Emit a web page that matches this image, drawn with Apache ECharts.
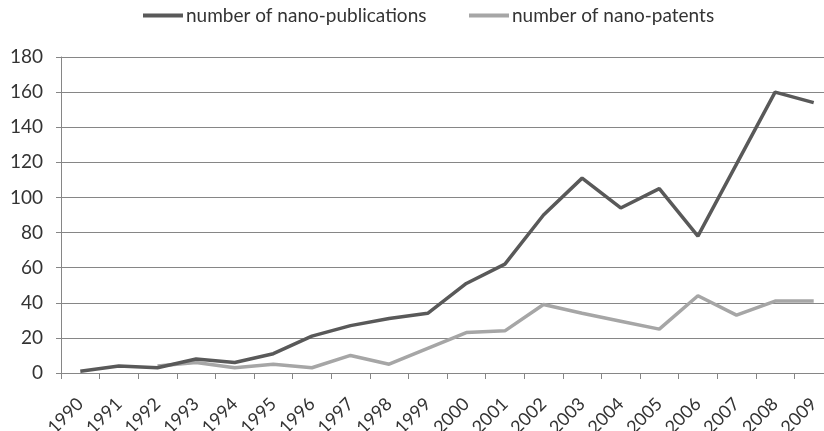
<!DOCTYPE html>
<html lang="en">
<head>
    <meta charset="UTF-8">
    <title>Nano publications and patents</title>
    <script src="https://cdn.jsdelivr.net/npm/echarts@6/dist/echarts.min.js"></script>
    <style>
        html, body { margin: 0; padding: 0; background: #fff; }
        #chart { width: 824px; height: 431px; }
    </style>
</head>
<body>
<div id="chart"></div>
<script>
    // values
    const years = ['1990', '1991', '1992', '1993', '1994', '1995', '1996', '1997', '1998', '1999',
        '2000', '2001', '2002', '2003', '2004', '2005', '2006', '2007', '2008', '2009'];
    const publications = [1, 4, 3, 8, 6, 11, 21, 27, 31, 34, 51, 62, 90, 111, 94, 105, 78, 119, 160, 154];
    const patents = [null, null, 4, 6, 3, 5, 3, 10, 5, 14, 23, 24, 39, 34, 29.5, 25, 44, 33, 41, 41];
    const pubName = 'number of nano-publications';
    const patName = 'number of nano-patents';

    const font = 'Lato, "Liberation Sans", sans-serif';
    const textColor = '#333333';
    const chart = echarts.init(document.getElementById('chart'));

    const legendBase = {
        top: 1,
        icon: 'rect',
        itemWidth: 40,
        itemHeight: 4,
        itemGap: 4,
        textStyle: {fontFamily: font, fontSize: 19, color: textColor, padding: [0, 0, 0, -2]}
    };

    chart.setOption({
        animation: false,
        legend: [
            Object.assign({left: 138, data: [pubName]}, legendBase),
            Object.assign({left: 464, data: [patName]}, legendBase)
        ],
        grid: {left: 61, right: -9, top: 57, bottom: 58, containLabel: false, outerBoundsMode: 'none'},
        xAxis: {
            type: 'category',
            data: years,
            boundaryGap: true,
            axisLine: {lineStyle: {color: '#868686', width: 1}},
            axisTick: {show: true, length: 6, lineStyle: {color: '#868686'}},
            axisLabel: {
                rotate: 45, margin: 28, hideOverlap: false,
                fontFamily: font, fontSize: 18, color: textColor
            },
            splitLine: {show: false}
        },
        yAxis: {
            type: 'value',
            min: 0, max: 180, interval: 20,
            axisLine: {show: true, lineStyle: {color: '#868686', width: 1}},
            axisTick: {show: true, length: 5, lineStyle: {color: '#868686'}},
            axisLabel: {margin: 18, fontFamily: font, fontSize: 19, color: textColor},
            splitLine: {lineStyle: {color: '#868686', width: 1}}
        },
        series: [
            {
                name: pubName,
                type: 'line',
                data: publications,
                symbol: 'none',
                lineStyle: {color: '#595959', width: 3.5},
                itemStyle: {color: '#595959'},
                z: 3
            },
            {
                name: patName,
                type: 'line',
                data: patents,
                symbol: 'none',
                lineStyle: {color: '#a6a6a6', width: 3.5},
                itemStyle: {color: '#a6a6a6'},
                z: 2
            }
        ]
    });
</script>
</body>
</html>
